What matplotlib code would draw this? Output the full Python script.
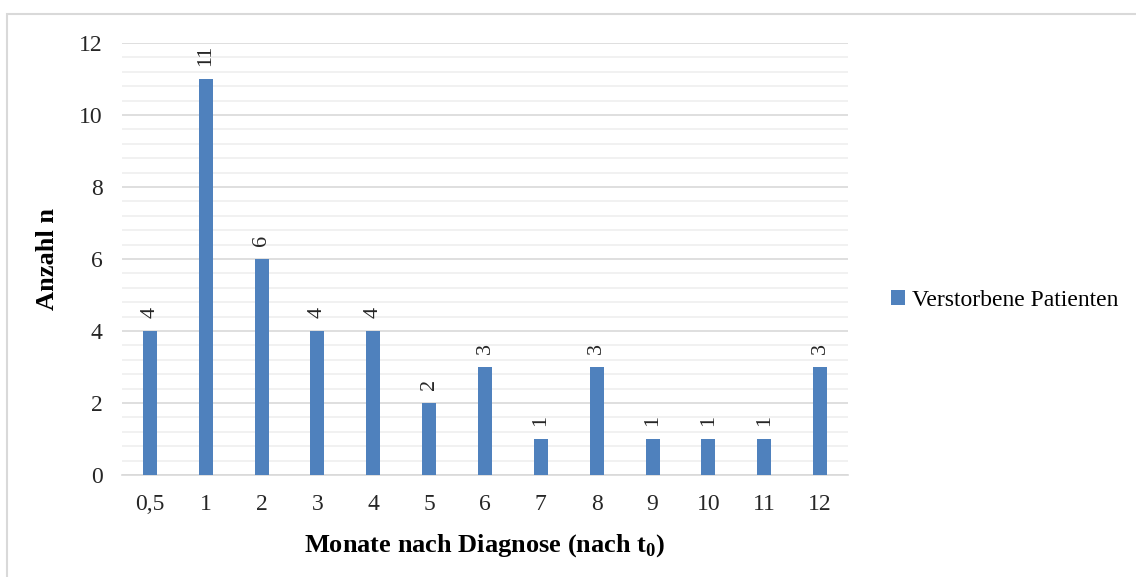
"""Verstorbene Patienten nach Monaten seit Diagnose, Säulendiagramm."""
import matplotlib

matplotlib.use("Agg")
import matplotlib.pyplot as plt
from matplotlib.patches import Rectangle
from matplotlib.ticker import MultipleLocator

months = ["0,5", "1", "2", "3", "4", "5", "6", "7", "8", "9", "10", "11", "12"]
deceased = [4, 11, 6, 4, 4, 2, 3, 1, 3, 1, 1, 1, 3]

plt.rcParams.update(
    {
        "font.family": "Liberation Serif",
        "mathtext.fontset": "custom",
        "mathtext.rm": "Liberation Serif",
        "mathtext.bf": "Liberation Serif:bold",
    }
)

W, H = 1136, 577
fig = plt.figure(figsize=(W / 100, H / 100), dpi=100)

# light frame round the chart area
fig.patches.append(
    Rectangle((7 / W, -0.1), 1.2, 1 - 14 / H + 0.1, transform=fig.transFigure,
              fill=False, edgecolor="#d9d9d9", linewidth=1.5)
)

ax = fig.add_axes([122 / W, 1 - 475 / H, (848 - 122) / W, (475 - 43) / H])
x = range(len(months))
bars = ax.bar(x, deceased, width=0.25, color="#4f81bd", zorder=3,
              label="Verstorbene Patienten")

for rect, v in zip(bars, deceased):
    ax.annotate(str(v), (rect.get_x() + rect.get_width() / 2, v),
                xytext=(0, 9), textcoords="offset points", rotation=90,
                ha="center", va="bottom", fontsize=16, color="#262626")

ax.set_xlim(-0.5, len(months) - 0.5)
ax.set_ylim(0, 12)
ax.set_xticks(list(x))
ax.set_xticklabels(months)
ax.yaxis.set_major_locator(MultipleLocator(2))
ax.yaxis.set_minor_locator(MultipleLocator(0.4))
ax.grid(axis="y", which="major", color="#d9d9d9", linewidth=1.2, zorder=0)
ax.grid(axis="y", which="minor", color="#efefef", linewidth=1.2, zorder=0)
ax.tick_params(axis="both", which="both", length=0, labelsize=17,
               colors="#262626")
ax.tick_params(axis="x", pad=14)
ax.tick_params(axis="y", pad=14)
for side in ("top", "right", "left"):
    ax.spines[side].set_visible(False)
ax.spines["bottom"].set_color("#d9d9d9")
ax.spines["bottom"].set_linewidth(1.2)

ax.set_xlabel(r"Monate nach Diagnose (nach t$_{\mathbf{0}}$)", fontsize=19,
              fontweight="bold", labelpad=12)
ax.set_ylabel("Anzahl n", fontsize=19, fontweight="bold", labelpad=14)

ax.legend(loc="center left", bbox_to_anchor=(1.03, 0.405), frameon=False,
          fontsize=17, handlelength=0.6, handleheight=0.6, handletextpad=0.3)

fig.savefig("out.png", dpi=100)
